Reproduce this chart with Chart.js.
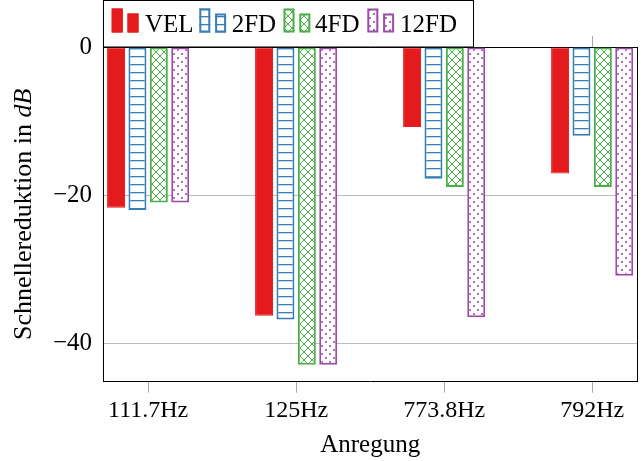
<!DOCTYPE html>
<html>
<head>
<meta charset="utf-8">
<script src="https://cdn.jsdelivr.net/npm/chart.js@4.4.1/dist/chart.umd.min.js"></script>
<style>
  html, body { margin: 0; padding: 0; background: #fff; }
  #wrap { width: 644px; height: 461px; }
</style>
</head>
<body>
<div id="wrap"><canvas id="barChart"></canvas></div>
<script>
const frequencies = ['111.7Hz', '125Hz', '773.8Hz', '792Hz'];
const seriesNames = ['VEL', '2FD', '4FD', '12FD'];
const velValues = [-21.7, -36.3, -10.8, -17.1];
const fd2Values = [-22.0, -36.8, -17.8, -12.0];
const fd4Values = [-21.0, -42.9, -18.9, -18.9];
const fd12Values = [-21.0, -42.9, -36.5, -30.9];
const yTicks = [-40, -20, 0];

const FONT = "'Liberation Serif', 'Times New Roman', serif";
const colors = ['#e41a1c', '#377eb8', '#4daf4a', '#984ea3'];

function makePattern(kind, color) {
  const c = document.createElement('canvas');
  c.width = 8; c.height = 8;
  const g = c.getContext('2d');
  g.fillStyle = '#fff';
  g.fillRect(0, 0, 8, 8);
  g.strokeStyle = color;
  g.fillStyle = color;
  g.lineWidth = 1;
  if (kind === 'hlines') {
    g.fillRect(0, 0, 8, 1.3);
  } else if (kind === 'cross') {
    g.beginPath();
    g.moveTo(0, 0); g.lineTo(8, 8);
    g.moveTo(8, 0); g.lineTo(0, 8);
    g.stroke();
  } else if (kind === 'dots') {
    g.beginPath(); g.arc(2, 2, 1.1, 0, Math.PI * 2); g.fill();
    g.beginPath(); g.arc(6, 6, 1.1, 0, Math.PI * 2); g.fill();
  }
  return g.createPattern(c, 'repeat');
}

const fills = [
  colors[0],
  makePattern('hlines', colors[1]),
  makePattern('cross', colors[2]),
  makePattern('dots', colors[3])
];

const allValues = [velValues, fd2Values, fd4Values, fd12Values];

const datasets = allValues.map((vals, i) => ({
  label: seriesNames[i],
  data: vals.map((v, k) => ({ x: k, y: v })),
  backgroundColor: fills[i],
  borderColor: colors[i],
  borderWidth: i === 0 ? 1 : 2,
  borderSkipped: false,
  categoryPercentage: 0.578,
  barPercentage: 0.84
}));

const setTicks = vals => scale => { scale.ticks = vals.map(v => ({ value: v })); };

// legend box drawn over the top of the plot like pgfplots does
const legendBox = {
  id: 'legendBox',
  afterDraw(chart) {
    const ctx = chart.ctx;
    ctx.save();
    ctx.fillStyle = '#fff';
    ctx.fillRect(103, 0, 370.5, 47);
    ctx.strokeStyle = '#000';
    ctx.lineWidth = 1;
    ctx.strokeRect(103.5, 0.5, 370, 46.5);
    const iconX = [111.7, 199.3, 283.5, 367.3];
    const textX = [145, 231.7, 315, 400];
    ctx.font = '25px ' + FONT;
    ctx.textBaseline = 'alphabetic';
    for (let i = 0; i < 4; i++) {
      const bars = [[iconX[i], 8.5, 24], [iconX[i] + 15.8, 13.5, 19]];
      bars.forEach(([x, y, h]) => {
        ctx.fillStyle = fills[i];
        ctx.fillRect(x, y, 11, h);
        ctx.strokeStyle = colors[i];
        ctx.lineWidth = i === 0 ? 1 : 2;
        const lw = ctx.lineWidth / 2;
        ctx.strokeRect(x + lw, y + lw, 11 - 2 * lw, h - 2 * lw);
      });
      ctx.fillStyle = '#000';
      ctx.fillText(seriesNames[i], textX[i], 32);
    }
    ctx.restore();
  }
};

// rotated y title with italic unit
const yTitle = {
  id: 'yTitle',
  afterDraw(chart) {
    const ctx = chart.ctx;
    const area = chart.chartArea;
    const part1 = 'Schnellereduktion in ';
    const part2 = 'dB';
    ctx.save();
    ctx.translate(24, (area.top + area.bottom) / 2);
    ctx.rotate(-Math.PI / 2);
    ctx.textBaseline = 'middle';
    ctx.fillStyle = '#000';
    ctx.font = '26px ' + FONT;
    const w1 = ctx.measureText(part1).width;
    ctx.font = 'italic 26px ' + FONT;
    const w2 = ctx.measureText(part2).width;
    let x = -(w1 + w2) / 2;
    ctx.font = '26px ' + FONT;
    ctx.fillText(part1, x, 0);
    ctx.font = 'italic 26px ' + FONT;
    ctx.fillText(part2, x + w1, 0);
    ctx.restore();
  }
};

new Chart(document.getElementById('barChart').getContext('2d'), {
  type: 'bar',
  data: { datasets },
  plugins: [legendBox, yTitle],
  options: {
    responsive: true,
    maintainAspectRatio: false,
    animation: false,
    layout: { padding: { top: 47, right: 6.7, left: 0, bottom: 0 } },
    plugins: { legend: { display: false }, tooltip: { enabled: false } },
    scales: {
      x: {
        type: 'linear',
        min: -0.305,
        max: 3.305,
        offset: false,
        afterBuildTicks: setTicks([0, 1, 2, 3]),
        afterFit: s => { s.height = 79.3; },
        grid: { offset: false, drawOnChartArea: false, drawTicks: true, tickLength: 11, color: '#a8a8a8' },
        border: { color: '#000', width: 1 },
        ticks: {
          color: '#000',
          font: { family: FONT, size: 24 },
          padding: 4,
          maxRotation: 0,
          callback: v => frequencies[v]
        },
        title: {
          display: true,
          text: 'Anregung',
          color: '#000',
          font: { family: FONT, size: 25 },
          padding: { top: 0, bottom: 1 }
        }
      },
      x2: {
        type: 'linear',
        position: 'top',
        min: -0.305,
        max: 3.305,
        offset: false,
        afterBuildTicks: setTicks([0, 1, 2, 3]),
        afterFit: s => { s.height = 0; },
        grid: { offset: false, drawOnChartArea: false, drawTicks: true, tickLength: 11, color: '#a8a8a8' },
        border: { color: '#000', width: 1 },
        ticks: { display: false }
      },
      y: {
        min: -45.2,
        max: 0,
        afterBuildTicks: setTicks(yTicks),
        afterFit: s => { s.width = 103; },
        grid: {
          drawTicks: false,
          color: ctx => (ctx.tick && ctx.tick.value === 0) ? 'rgba(0,0,0,0)' : '#bdbdbd'
        },
        border: { color: '#000', width: 1 },
        ticks: {
          color: '#000',
          font: { family: FONT, size: 25 },
          padding: 11,
          callback: v => v === 0 ? '0' : '\u2212' + Math.abs(v)
        }
      },
      y2: {
        position: 'right',
        min: -45.2,
        max: 0,
        afterFit: s => { s.width = 0; },
        grid: { drawOnChartArea: false, drawTicks: false },
        border: { color: '#000', width: 1 },
        ticks: { display: false }
      }
    }
  }
});
</script>
</body>
</html>
